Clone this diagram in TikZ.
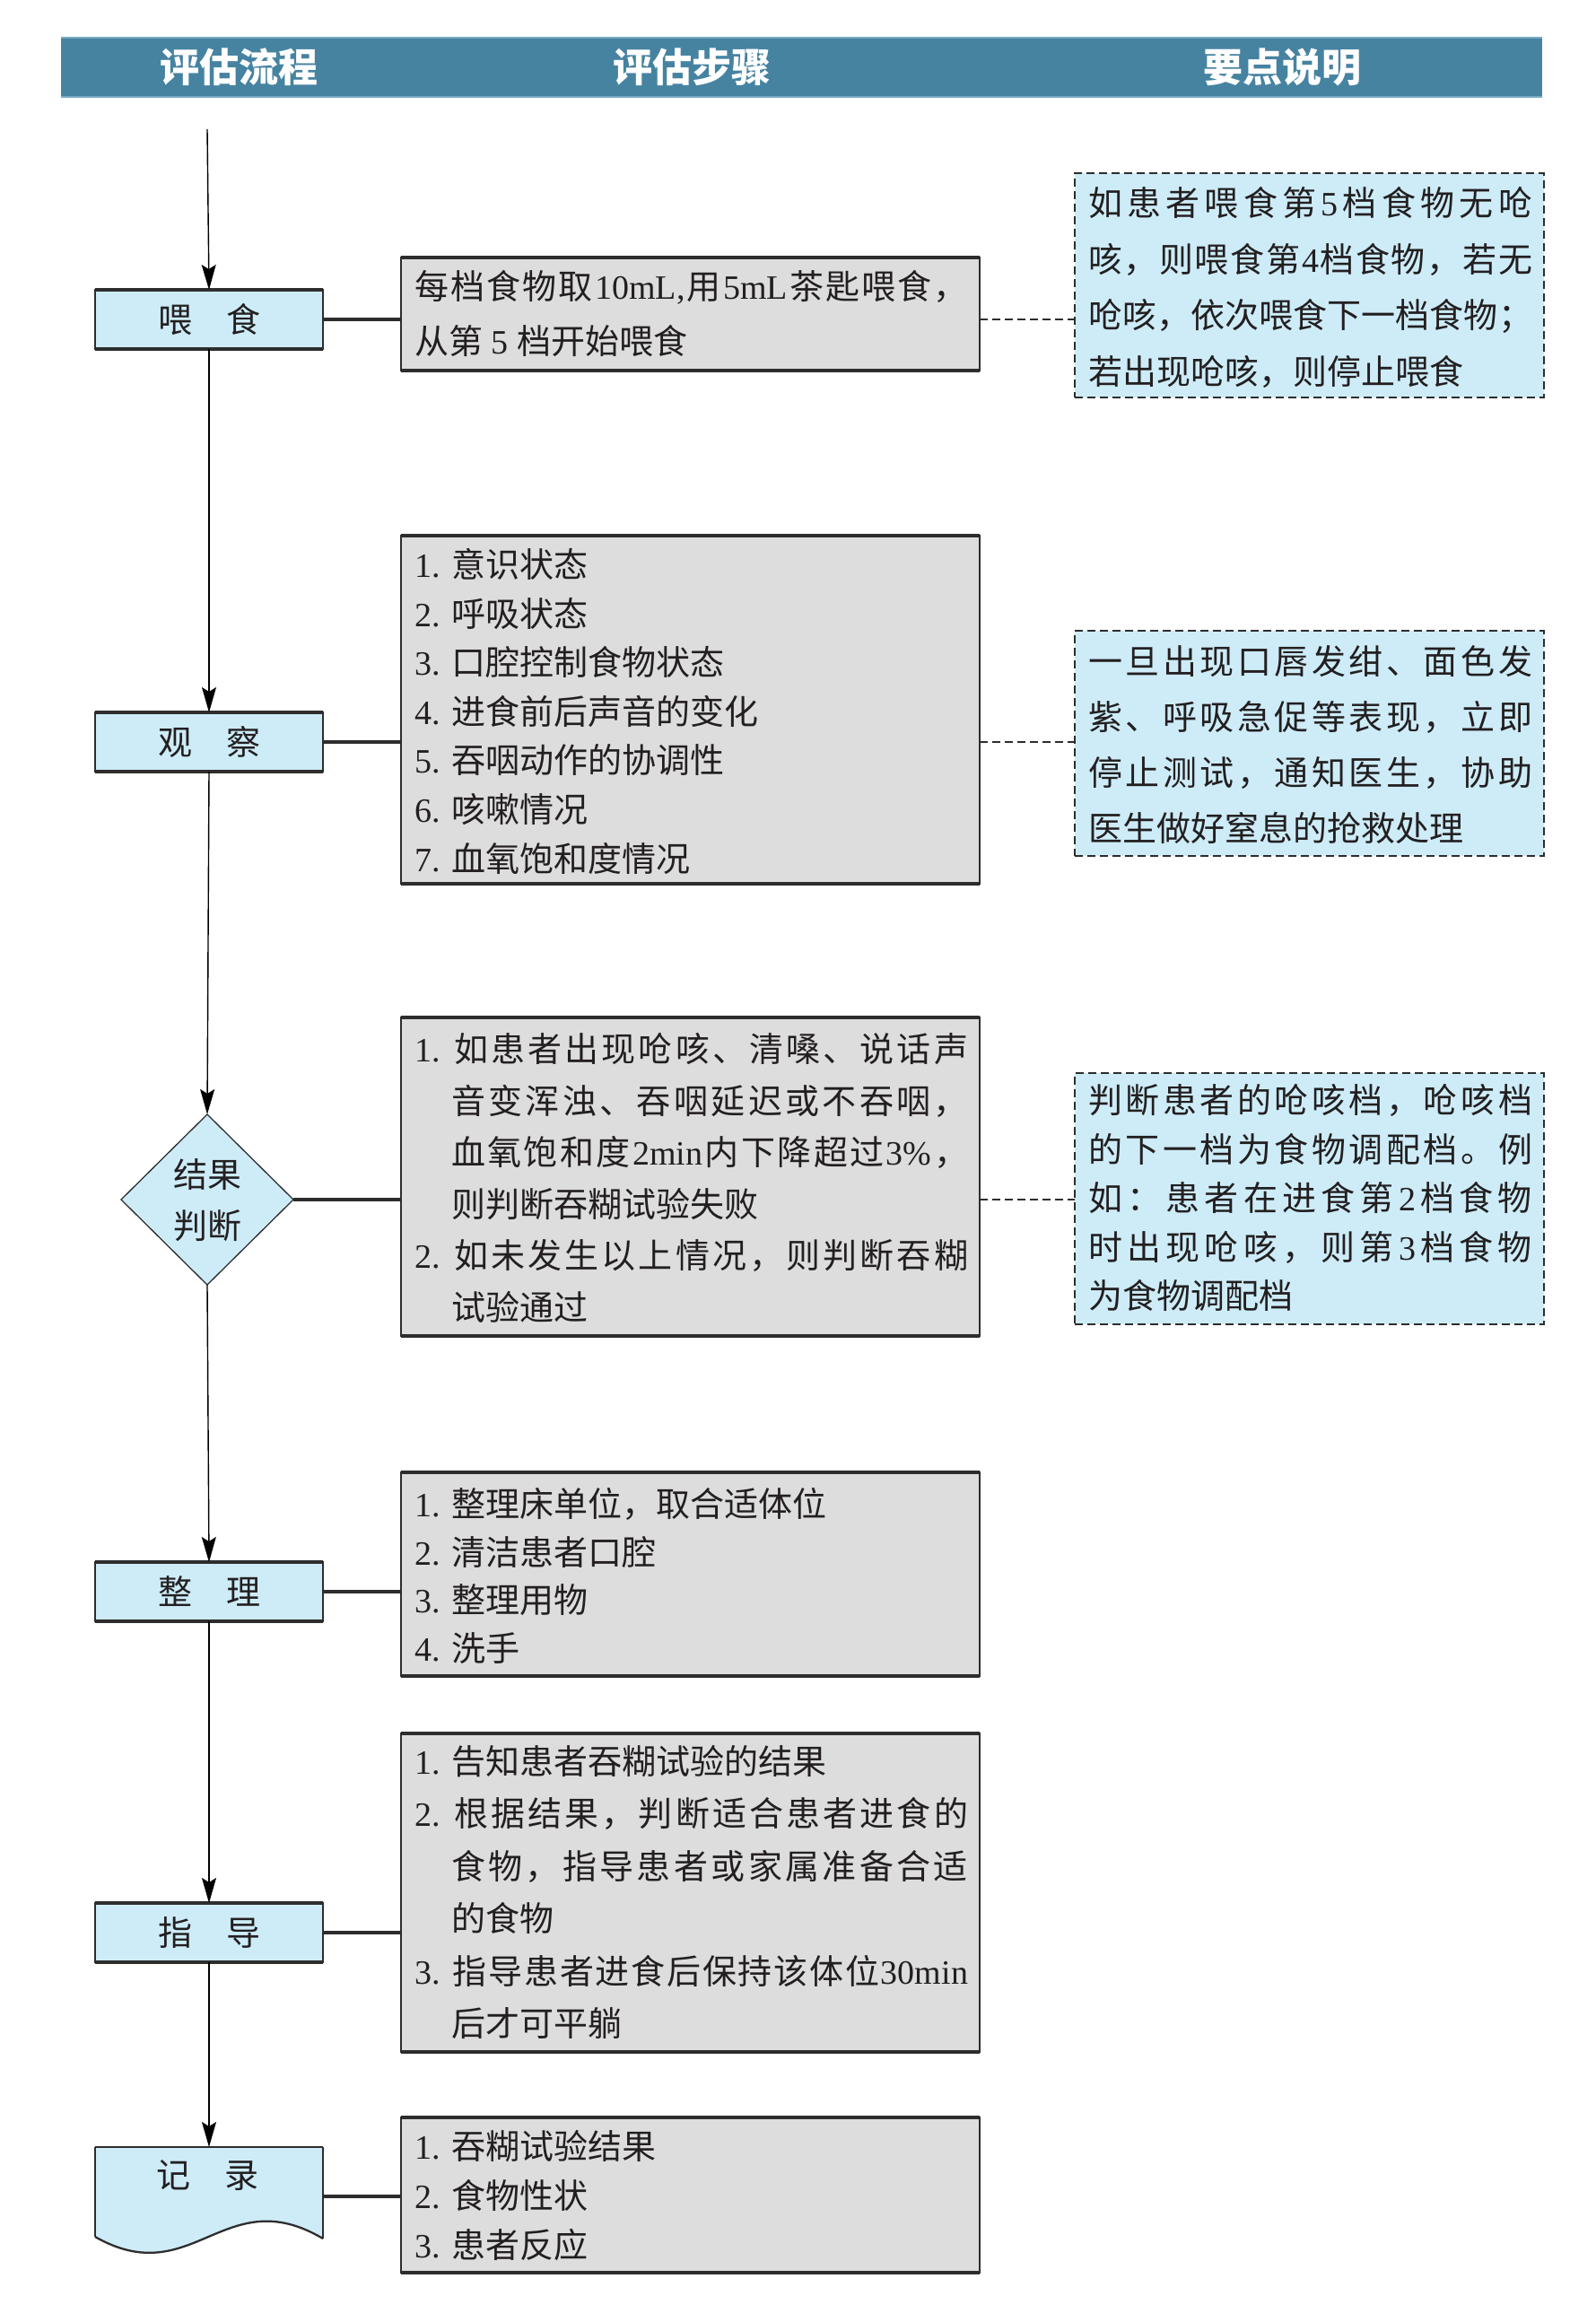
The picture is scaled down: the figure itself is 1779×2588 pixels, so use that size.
\documentclass[tikz,border=0pt]{standalone}
\usepackage{fontspec}
\newfontfamily\cjk{Noto Sans CJK SC}
\newfontfamily\latf{Liberation Serif}
\usetikzlibrary{shapes.geometric,arrows.meta}
\definecolor{hdr}{RGB}{70,131,161}
\definecolor{hdredge}{RGB}{120,170,195}
\definecolor{lb}{RGB}{205,236,248}
\definecolor{gb}{RGB}{221,221,221}
\definecolor{ink}{RGB}{35,31,32}
\definecolor{edge}{RGB}{45,45,45}
\makeatletter
\def\sp@endmark{\relax}
\def\sp@l#1{\def\sp@arg{#1}\ifx\sp@arg\sp@endmark\else\hskip 0pt plus 1fil\relax #1\expandafter\sp@l\fi}
\def\sp@first#1{#1\sp@l}
\newcommand\jst[2]{\hbox to #1{\sp@first#2\relax}}
\makeatother
\newcommand\latn[1]{{\latf #1}}
\tikzset{
  every node/.style={inner sep=0pt, outer sep=0pt},
  lbox/.style={draw=edge, line width=1.3pt, fill=lb, minimum width=254pt, minimum height=66pt, anchor=north west, font=\cjk\fontsize{38}{38}\selectfont, text=ink},
  sbox/.style={draw=edge, line width=1.3pt, fill=gb, minimum width=645pt, anchor=north west},
  nbox/.style={draw=edge, line width=2.3pt, dash pattern=on 9pt off 5pt, fill=lb, minimum width=523pt, anchor=north west},
  txt/.style={anchor=west, font=\cjk\fontsize{38}{38}\selectfont, text=ink, text height=30pt, text depth=3pt},
  ctxt/.style={anchor=center, font=\cjk\fontsize{38}{38}\selectfont, text=ink, text height=30pt, text depth=3pt},
  hdrtxt/.style={anchor=center, font=\cjk\bfseries\fontsize{44}{44}\selectfont, text=white},
  flow/.style={line width=1.4pt, draw=black, -{Stealth[length=28pt,width=16pt,inset=5pt]}},
  link/.style={line width=3.2pt, draw=edge},
  dlink/.style={line width=2.6pt, draw=edge, dash pattern=on 9pt off 5pt},
  heavy/.style={line width=3.6pt, draw=edge}
}
\newcommand\tb[1]{\draw[heavy] (#1.north west) -- (#1.north east) (#1.south west) -- (#1.south east);}
\newcommand\tl[4]{\node[txt] (#1) at (#2,#3) {#4};}
\begin{document}
\begin{tikzpicture}[x=1pt,y=-1pt]
\useasboundingbox (0,0) rectangle (1779,2588);
% header
\node[fill=hdr, minimum width=1651pt, minimum height=66pt, anchor=north west] (hdr) at (68,42) {};
\draw[hdredge, line width=2pt] (hdr.north west) -- (hdr.north east) (hdr.south west) -- (hdr.south east);
\node[hdrtxt] (h1) at (266,75) {评估流程};
\node[hdrtxt] (h2) at (771,75) {评估步骤};
\node[hdrtxt] (h3) at (1429,75) {要点说明};

% left column
\coordinate (start) at (231,144);
\node[lbox] (feed) at (106,323) {喂\hspace{38pt}食};
\node[lbox] (obs) at (106,794) {观\hspace{38pt}察};
\node[diamond, draw=edge, line width=1.3pt, fill=lb, minimum width=192pt, minimum height=190pt] (judge) at (231,1337) {};
\node[ctxt] (j1) at (231,1310) {结果};
\node[ctxt] (j2) at (231,1367) {判断};
\node[lbox] (tidy) at (106,1741) {整\hspace{38pt}理};
\node[lbox] (guide) at (106,2121) {指\hspace{38pt}导};
\fill[lb] (106,2393) -- (360,2393) -- (360,2495) .. controls (250,2430) and (215,2555) .. (106,2493) -- cycle;
\draw[edge, line width=1.3pt] (106,2393) -- (106,2493);
\draw[edge, line width=1.3pt] (360,2393) -- (360,2495);
\draw[edge, line width=2.3pt] (360,2495) .. controls (250,2430) and (215,2555) .. (106,2493);
\draw[edge, line width=2.3pt] (106,2393) -- (360,2393);
\node[minimum width=254pt, minimum height=110pt, anchor=north west] (rec) at (106,2393) {};
\node[ctxt] (rect) at (231,2425) {记\hspace{38pt}录};
\foreach \n in {feed,obs,tidy,guide} {\tb{\n}}

% step boxes
\node[sbox, minimum height=126pt] (s1) at (447,287) {};
\node[sbox, minimum height=388pt] (s2) at (447,597) {};
\node[sbox, minimum height=355pt] (s3) at (447,1134) {};
\node[sbox, minimum height=227pt] (s4) at (447,1641) {};
\node[sbox, minimum height=355pt] (s5) at (447,1932) {};
\node[sbox, minimum height=173pt] (s6) at (447,2360) {};
\foreach \n in {s1,s2,s3,s4,s5,s6} {\tb{\n}}

% note boxes
\node[nbox, minimum height=250pt] (n1) at (1198,193) {};
\node[nbox, minimum height=251pt] (n2) at (1198,703) {};
\node[nbox, minimum height=280pt] (n3) at (1198,1196) {};

% flow arrows
\draw[flow] (start) -- (feed.north);
\draw[flow] (feed.south) -- (obs.north);
\draw[flow] (obs.south) -- (judge.north);
\draw[flow] (judge.south) -- (tidy.north);
\draw[flow] (tidy.south) -- (guide.north);
\draw[flow] (guide.south) -- (rec.north);

% horizontal links
\draw[link] (feed.east) -- (feed.east -| s1.west);
\draw[dlink] (feed.east -| s1.east) -- (feed.east -| n1.west);
\draw[link] (obs.east) -- (obs.east -| s2.west);
\draw[dlink] (obs.east -| s2.east) -- (obs.east -| n2.west);
\draw[link] (judge.east) -- (judge.east -| s3.west);
\draw[dlink] (judge.east -| s3.east) -- (judge.east -| n3.west);
\draw[link] (tidy.east) -- (tidy.east -| s4.west);
\draw[link] (guide.east) -- (guide.east -| s5.west);
\draw[link] (rec.east) -- (rec.east -| s6.west);

% step 1 text
\tl{a1}{462}{320}{\jst{617pt}{每档食物取{\latn{10mL,}}用{\latn{5mL}}茶匙喂食，}}
\tl{a2}{462}{381}{从第\latn{ 5 }档开始喂食}
% note 1
\tl{m1}{1213}{227}{\jst{495pt}{如患者喂食第{\latn{5}}档食物无呛}}
\tl{m2}{1213}{289.5}{\jst{495pt}{咳，则喂食第{\latn{4}}档食物，若无}}
\tl{m3}{1213}{352}{\jst{495pt}{呛咳，依次喂食下一档食物；}}
\tl{m4}{1213}{414.5}{若出现呛咳，则停止喂食}
% step 2
\tl{b1}{462}{630}{\latn{1. }意识状态}
\tl{b2}{462}{684.6}{\latn{2. }呼吸状态}
\tl{b3}{462}{739.2}{\latn{3. }口腔控制食物状态}
\tl{b4}{462}{793.8}{\latn{4. }进食前后声音的变化}
\tl{b5}{462}{848.4}{\latn{5. }吞咽动作的协调性}
\tl{b6}{462}{903}{\latn{6. }咳嗽情况}
\tl{b7}{462}{957.6}{\latn{7. }血氧饱和度情况}
% note 2
\tl{p1}{1213}{738}{\jst{495pt}{一旦出现口唇发绀、面色发}}
\tl{p2}{1213}{800}{\jst{495pt}{紫、呼吸急促等表现，立即}}
\tl{p3}{1213}{862}{\jst{495pt}{停止测试，通知医生，协助}}
\tl{p4}{1213}{924}{医生做好窒息的抢救处理}
% step 3
\tl{c1}{462}{1170}{\jst{617pt}{{\latn{1. }}如患者出现呛咳、清嗓、说话声}}
\tl{c2}{503}{1227.6}{\jst{576pt}{音变浑浊、吞咽延迟或不吞咽，}}
\tl{c3}{503}{1285.2}{\jst{576pt}{血氧饱和度{\latn{2min}}内下降超过{\latn{3\%}}，}}
\tl{c4}{503}{1342.8}{则判断吞糊试验失败}
\tl{c5}{462}{1400.4}{\jst{617pt}{{\latn{2. }}如未发生以上情况，则判断吞糊}}
\tl{c6}{503}{1458}{试验通过}
% note 3
\tl{q1}{1213}{1227}{\jst{495pt}{判断患者的呛咳档，呛咳档}}
\tl{q2}{1213}{1281.5}{\jst{495pt}{的下一档为食物调配档。例}}
\tl{q3}{1213}{1336}{\jst{495pt}{如：患者在进食第{\latn{2}}档食物}}
\tl{q4}{1213}{1390.5}{\jst{495pt}{时出现呛咳，则第{\latn{3}}档食物}}
\tl{q5}{1213}{1445}{为食物调配档}
% step 4
\tl{d1}{462}{1677}{\latn{1. }整理床单位，取合适体位}
\tl{d2}{462}{1730.7}{\latn{2. }清洁患者口腔}
\tl{d3}{462}{1784.4}{\latn{3. }整理用物}
\tl{d4}{462}{1838.1}{\latn{4. }洗手}
% step 5
\tl{e1}{462}{1964}{\latn{1. }告知患者吞糊试验的结果}
\tl{e2}{462}{2022.4}{\jst{617pt}{{\latn{2. }}根据结果，判断适合患者进食的}}
\tl{e3}{503}{2080.8}{\jst{576pt}{食物，指导患者或家属准备合适}}
\tl{e4}{503}{2139.2}{的食物}
\tl{e5}{462}{2197.6}{\jst{617pt}{{\latn{3. }}指导患者进食后保持该体位{\latn{30min}}}}
\tl{e6}{503}{2256}{后才可平躺}
% step 6
\tl{f1}{462}{2393}{\latn{1. }吞糊试验结果}
\tl{f2}{462}{2448}{\latn{2. }食物性状}
\tl{f3}{462}{2503}{\latn{3. }患者反应}
\end{tikzpicture}
\end{document}
